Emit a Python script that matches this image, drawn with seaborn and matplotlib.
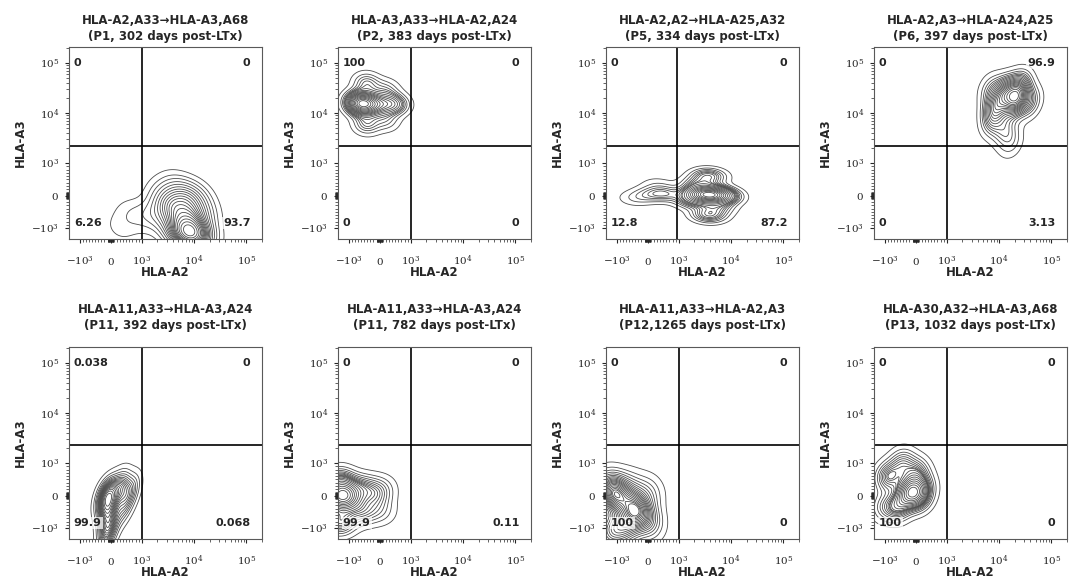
import numpy as np
import pandas as pd
import matplotlib
matplotlib.use("Agg")
import matplotlib.pyplot as plt
import seaborn as sns

sns.set_style("ticks")
plt.rcParams['font.family'] = ['DejaVu Sans']
plt.rcParams['mathtext.fontset'] = 'dejavuserif'

titles = [
    "HLA-A2,A33\u2192HLA-A3,A68\n(P1, 302 days post-LTx)",
    "HLA-A3,A33\u2192HLA-A2,A24\n(P2, 383 days post-LTx)",
    "HLA-A2,A2\u2192HLA-A25,A32\n(P5, 334 days post-LTx)",
    "HLA-A2,A3\u2192HLA-A24,A25\n(P6, 397 days post-LTx)",
    "HLA-A11,A33\u2192HLA-A3,A24\n(P11, 392 days post-LTx)",
    "HLA-A11,A33\u2192HLA-A3,A24\n(P11, 782 days post-LTx)",
    "HLA-A11,A33\u2192HLA-A2,A3\n(P12,1265 days post-LTx)",
    "HLA-A30,A32\u2192HLA-A3,A68\n(P13, 1032 days post-LTx)",
]

# quadrant frequencies: upper-left, upper-right, lower-left, lower-right
quad_ul = ["0", "100", "0", "0", "0.038", "0", "0", "0"]
quad_ur = ["0", "0", "0", "96.9", "0", "0", "0", "0"]
quad_ll = ["6.26", "0", "12.8", "0", "99.9", "99.9", "100", "100"]
quad_lr = ["93.7", "0", "87.2", "3.13", "0.068", "0.11", "0", "0"]

# quadrant gates (HLA-A2 / HLA-A3 thresholds)
gate_a2 = [1000, 1000, 950, 1000, 1000, 1000, 1000, 1000]
gate_a3 = [2200, 2200, 2200, 2200, 2300, 2300, 2300, 2300]

# population anchors: HLA-A2, HLA-A3, relative weight
a2_events = [
    [8432, 11600, 5505, 7500, 4448, 6813, 2904, 2904, 1532, 700, 300, 12915, 10436, 4448],
    [-545, -700, -121, 355, 600, -424, -424, 200, 200],
    [548, 32, -424, 300, 3740, 2346, 5500, 3740, 3740, 1740, 8000, 2346, 5500],
    [20600, 12900, 8430, 24500, 8000, 12900, 17000, 37500, 7000],
    [-91, -91, -91, -91, 355, 677, 258, -273, 355, 516],
    [-1480, -1480, -1480, -1040, -576, -576, -121, 32, 32],
    [-394, -1040, -1290, -1290, -727, 32, 32, -576],
    [-180, -576, 100, -879, -424, 32, -1040, 250],
]
a3_events = [
    [-1330, -1200, -1200, -656, -344, -30, -500, -30, -656, -600, -1000, -500, -30, 273],
    [15100, 16600, 15100, 15100, 15100, 40000, 6000, 30000, 7000],
    [60, 30, -94, 350, 30, 30, 30, 600, -600, -188, -30, 350, -350],
    [19000, 26300, 13200, 35000, 7000, 4500, 2600, 16600, 30000],
    [-30, -500, -970, -1514, 200, 200, 300, -30, -500, -188],
    [-30, 450, -813, -30, 250, -500, -30, 250, -500],
    [-440, -30, 250, -1200, -970, -813, 100, 250],
    [121, -344, -30, 576, 1000, 727, -344, 273],
]
event_w = [
    [6, 4, 4, 3, 2.5, 2, 2, 1.5, 1, 0.8, 0.5, 2, 1.5, 1],
    [6, 2.5, 3, 2, 1, 1.5, 1.5, 1, 1],
    [1.0, 0.6, 0.4, 0.3, 5, 2, 2, 1.5, 1.5, 1, 1, 1, 1],
    [5, 3, 2.5, 2, 1.5, 1.2, 0.8, 1.5, 1],
    [5, 3, 2.5, 1.5, 2, 1.5, 1.2, 1, 1, 1],
    [6, 3, 3, 3, 2, 2, 1.5, 1, 1],
    [4, 3, 2, 2, 2, 1.5, 1, 1],
    [4, 2, 2, 2, 1.5, 1.5, 1, 1],
]

bw = [1.0, 0.9, 0.75, 0.9, 0.95, 0.9, 0.95, 0.9]

major = [-1000, 0, 1000, 1e4, 1e5]
major_lbl = [r'$-10^3$', r'$0$', r'$10^3$', r'$10^4$', r'$10^5$']
minor = ([-v for v in range(100, 1000, 100)] + list(range(100, 1000, 100))
         + [-v for v in range(10, 100, 10)] + list(range(10, 100, 10))
         + [m * 10 ** e for e in (3, 4) for m in range(2, 10)] + [2e5])

fig = plt.figure(figsize=(10.74, 5.84), dpi=100)
W, H = 1074, 584
lefts = [69, 338, 606, 874]
tops = [47, 347]

for i in range(8):
    r, c = divmod(i, 4)
    ax = fig.add_axes([lefts[c] / W, 1 - (tops[r] + 192) / H, 193 / W, 192 / H])
    ax.set_xscale('symlog', linthresh=1000, linscale=0.534)
    ax.set_yscale('symlog', linthresh=1000, linscale=0.585)
    ax.set_xlim(-1600, 1.53e5)
    ax.set_ylim(-1660, 2.1e5)

    df = pd.DataFrame({'HLA-A2': a2_events[i], 'HLA-A3': a3_events[i], 'w': event_w[i]})
    sns.kdeplot(data=df, x='HLA-A2', y='HLA-A3', weights='w', levels=20, thresh=0.03,
                bw_adjust=bw[i], color='0.3', linewidths=0.6, ax=ax)
    ax.set_xlim(-1600, 1.53e5)
    ax.set_ylim(-1660, 2.1e5)

    ax.axvline(gate_a2[i], color='black', lw=1.2)
    ax.axhline(gate_a3[i], color='black', lw=1.2)

    ax.set_xticks(major)
    ax.set_xticklabels(major_lbl)
    ax.set_yticks(major)
    ax.set_yticklabels(major_lbl)
    ax.set_xticks(minor, minor=True)
    ax.set_yticks(minor, minor=True)
    ax.tick_params(which='major', length=3, width=0.8, labelsize=7.5, direction='out')
    ax.tick_params(which='minor', length=2, width=0.5, direction='out')
    ax.tick_params(axis='x', which='major', pad=15.5)
    ax.tick_params(axis='y', which='major', pad=4)
    for lbl in ax.get_xticklabels():
        lbl.set_verticalalignment('baseline')
    for s in ax.spines.values():
        s.set_linewidth(0.8)
        s.set_color('0.35')

    ax.set_xlabel('HLA-A2', fontsize=8.5, fontweight='bold', labelpad=-1)
    ax.set_ylabel('HLA-A3', fontsize=8.5, fontweight='bold', labelpad=3)
    ax.set_title(titles[i], fontsize=8.5, fontweight='bold', pad=5 if r == 0 else 13,
                 linespacing=1.3)

    box = dict(facecolor='white', alpha=0.75, edgecolor='none', pad=0.8)
    kw = dict(transform=ax.transAxes, fontsize=8, fontweight='bold', va='center', bbox=box)
    ax.text(0.025, 0.917, quad_ul[i], ha='left', **kw)
    ax.text(0.94, 0.917, quad_ur[i], ha='right', **kw)
    ax.text(0.025, 0.083, quad_ll[i], ha='left', **kw)
    ax.text(0.94, 0.083, quad_lr[i], ha='right', **kw)

fig.savefig('out.png', dpi=100)
